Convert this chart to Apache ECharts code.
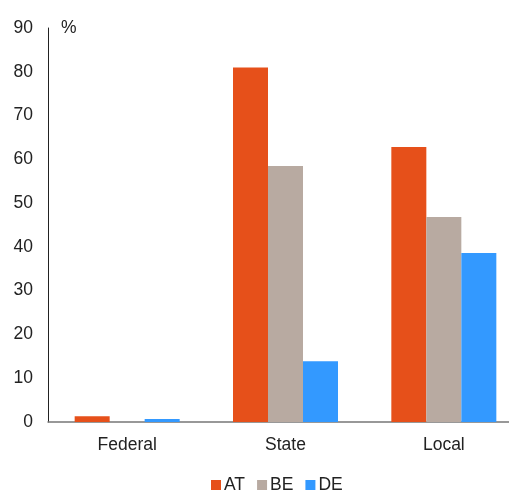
<!DOCTYPE html>
<html><head><meta charset="utf-8">
<script src="https://cdn.jsdelivr.net/npm/echarts@6/dist/echarts.min.js"></script>
<style>html,body{margin:0;padding:0;background:#fff;overflow:hidden;width:509px;height:491px}#c{width:523px;height:491px}</style>
</head><body><div id="c"></div>
<script>
const categories = ['Federal', 'State', 'Local'];
const seriesNames = ['AT', 'BE', 'DE'];
const AT = [1.3, 81.0, 62.8];
const BE = [0, 58.5, 46.8];
const DE = [0.7, 13.9, 38.6];
const yTicks = [0, 10, 20, 30, 40, 50, 60, 70, 80, 90];
const colors = ['#E6501A', '#B8AAA1', '#3399FF'];

const chart = echarts.init(document.getElementById('c'));
const font = 'Liberation Sans, Arial, sans-serif';
const fs = 17.5;
chart.setOption({
  animation: false,
  textStyle: { fontFamily: font },
  grid: { left: 48, right: 0, top: 28, height: 394, containLabel: false },
  legend: {
    top: 471, left: 206, itemWidth: 10, itemHeight: 10, itemGap: 12,
    icon: 'rect',
    textStyle: { fontSize: fs, color: '#222', fontFamily: font, padding: [0, 0, 0, -2] },
    data: seriesNames
  },
  xAxis: {
    type: 'category', data: categories,
    axisLine: { lineStyle: { color: '#777', width: 1.5 } },
    axisTick: { show: false },
    axisLabel: { fontSize: fs, color: '#222', margin: 14, fontFamily: font }
  },
  yAxis: {
    type: 'value', min: 0, max: 90, interval: 10,
    name: '%', nameLocation: 'end', nameGap: 0,
    nameTextStyle: { fontSize: fs, color: '#222', align: 'left', verticalAlign: 'middle', padding: [0, 0, 0, 13], fontFamily: font },
    axisLine: { show: true, lineStyle: { color: '#222', width: 1 } },
    axisTick: { show: false },
    splitLine: { show: false },
    axisLabel: { fontSize: fs, color: '#222', margin: 15, fontFamily: font,
      formatter: v => yTicks.includes(v) ? String(v) : '' }
  },
  series: [AT, BE, DE].map((d, i) => ({
    name: seriesNames[i], type: 'bar', data: d, barWidth: 35, barGap: '0%',
    itemStyle: { color: colors[i] }
  }))
});
</script></body></html>
